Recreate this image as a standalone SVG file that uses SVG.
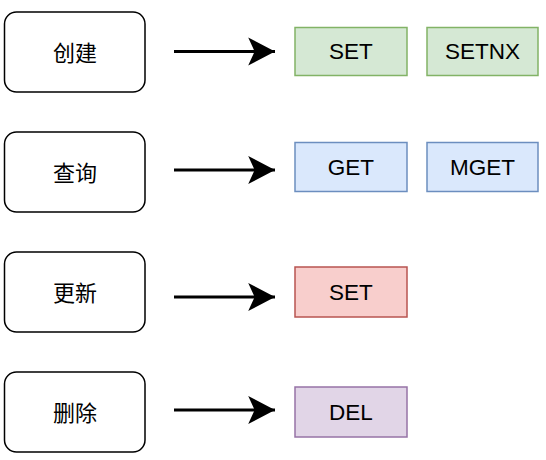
<svg xmlns="http://www.w3.org/2000/svg" width="546" height="460" viewBox="0 0 546 460">
<style>
.op rect{fill:#fff;stroke:#000;stroke-width:1.5}
.k rect{stroke-width:1.5}
text{font-family:"Liberation Sans","Noto Sans CJK SC",sans-serif;font-size:22.5px;fill:#000;text-anchor:middle;dominant-baseline:central}
.op text{font-family:"Noto Sans CJK SC","Liberation Sans",sans-serif;font-size:22px}
.g rect{fill:#d5e8d4;stroke:#82b366}
.b rect{fill:#dae8fc;stroke:#6c8ebf}
.r rect{fill:#f8cecc;stroke:#b85450}
.p rect{fill:#e1d5e7;stroke:#9673a6}
.conn line{stroke:#000;stroke-width:3}
</style>
<defs>
<marker id="ah" markerUnits="userSpaceOnUse" markerWidth="30" markerHeight="30" viewBox="0 0 26 28" refX="25" refY="14" orient="auto">
<path d="M0,1 L25,14 L0,27 L6,14 Z" fill="#000"/>
</marker>
</defs>
<g id="create" class="op"><rect x="4.5" y="12" width="140.5" height="80" rx="12"/><text x="75" y="51">创建</text></g>
<g id="query" class="op"><rect x="4.5" y="132" width="140.5" height="80" rx="12"/><text x="75" y="171">查询</text></g>
<g id="update" class="op"><rect x="4.5" y="252" width="140.5" height="80" rx="12"/><text x="75" y="291">更新</text></g>
<g id="delete" class="op"><rect x="4.5" y="372" width="140.5" height="80" rx="12"/><text x="75" y="411">删除</text></g>
<g id="set1" class="k g"><rect x="295" y="27.5" width="112" height="48"/><text x="351" y="51.5">SET</text></g>
<g id="setnx" class="k g"><rect x="427" y="27.5" width="111" height="48"/><text x="482.5" y="51.5">SETNX</text></g>
<g id="get" class="k b"><rect x="295" y="142.5" width="112" height="49"/><text x="351" y="167">GET</text></g>
<g id="mget" class="k b"><rect x="427" y="142.5" width="111" height="49"/><text x="482.5" y="167">MGET</text></g>
<g id="set2" class="k r"><rect x="295" y="267" width="112" height="50"/><text x="351" y="292">SET</text></g>
<g id="del" class="k p"><rect x="295" y="387" width="112" height="50"/><text x="351" y="412">DEL</text></g>
<g id="connectors" class="conn">
<line x1="174" y1="51.5" x2="275" y2="51.5" marker-end="url(#ah)"/>
<line x1="174" y1="170" x2="275" y2="170" marker-end="url(#ah)"/>
<line x1="174" y1="297" x2="275" y2="297" marker-end="url(#ah)"/>
<line x1="174" y1="410" x2="275" y2="410" marker-end="url(#ah)"/>
</g>
</svg>
